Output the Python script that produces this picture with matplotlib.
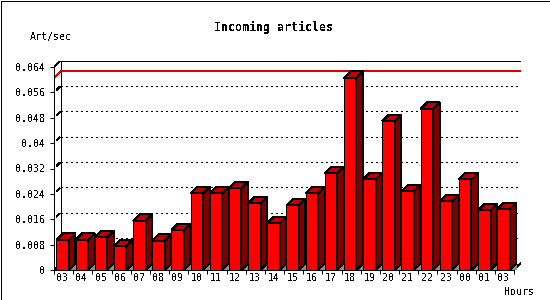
import matplotlib
matplotlib.use("Agg")
import matplotlib.pyplot as plt
from matplotlib.patches import Rectangle, Polygon
import numpy as np

# dati
hours = ["03", "04", "05", "06", "07", "08", "09", "10", "11", "12", "13", "14",
         "15", "16", "17", "18", "19", "20", "21", "22", "23", "00", "01", "03"]
rate = [0.0095, 0.0095, 0.0103, 0.0075, 0.0155, 0.0092, 0.0126, 0.0242,
        0.0242, 0.0258, 0.0210, 0.0147, 0.0204, 0.0242, 0.0305, 0.0606,
        0.0286, 0.0469, 0.0248, 0.0508, 0.0217, 0.0286, 0.0188, 0.0192]
yticks = [0, 0.008, 0.016, 0.024, 0.032, 0.04, 0.048, 0.056, 0.064]
ylabels = ["0", "0.008", "0.016", "0.024", "0.032", "0.04", "0.048", "0.056", "0.064"]

plt.rcParams['font.family'] = ['DejaVu Sans Mono', 'DejaVu Sans']
plt.rcParams['text.antialiased'] = False
plt.rcParams['lines.antialiased'] = False
plt.rcParams['patch.antialiased'] = False

W, H = 550, 300
fig = plt.figure(figsize=(W / 100, H / 100), dpi=100)

# geometria (pixel)
front_w = 460.0      # lunghezza asse x frontale
front_h = 203.0      # altezza da 0 a 0.064
depth = 6.5          # profondita' 3D
n = len(hours)
ymax = yticks[-1]
ux = n / front_w
uy = ymax / front_h
dx = depth * ux
dy = depth * uy

ax = fig.add_axes([54 / W, 30 / H, (front_w + depth) / W, (front_h + depth) / H])
ax.set_xlim(0, n + dx)
ax.set_ylim(0, ymax + dy)
for s in ["top", "right"]:
    ax.spines[s].set_visible(False)
ax.spines["left"].set_bounds(0, ymax)
ax.spines["bottom"].set_bounds(0, n)
for s in ["left", "bottom"]:
    ax.spines[s].set_linewidth(0.72)
    ax.spines[s].set_zorder(5)
ax.patch.set_alpha(0)

ax.set_yticks(yticks)
ax.set_yticklabels(ylabels, fontsize=7.2)
ax.set_xticks(np.arange(n + 1))
ax.set_xticklabels([])
ax.set_xticks(np.arange(n) + 0.45, minor=True)
ax.set_xticklabels(hours, minor=True, fontsize=7.2)
ax.tick_params(axis="y", length=3, width=0.72, pad=3)
ax.tick_params(axis="x", which="major", length=3, width=0.72)
ax.tick_params(axis="x", which="minor", length=0, pad=2)

lw = 0.72
# parete di fondo
ax.add_patch(Rectangle((dx, dy), n, ymax, fill=False, ec="black", lw=lw, zorder=1))
ax.plot([0, dx], [ymax, ymax + dy], color="black", lw=lw, zorder=1)
ax.plot([n, n + dx], [0, dy], color="black", lw=lw, zorder=1)
ax.plot([0, dx], [0, dy], color="black", lw=lw, zorder=1)

# griglia tratteggiata
for v in yticks[1:-1]:
    ax.plot([dx, n + dx], [v + dy, v + dy], color="black", lw=lw,
            dashes=(2, 3), zorder=1)
    ax.plot([0.45 * dx, 0.85 * dx], [v + 0.45 * dy, v + 0.85 * dy],
            color="black", lw=lw, zorder=1)

# linea del massimo
vmax = max(rate)
ax.plot([0, dx, n + dx], [vmax, vmax + dy, vmax + dy], color="#e00000", lw=lw, zorder=1)

# barre 3D
off = 0.13
bw = 0.65
for i, v in enumerate(rate):
    x0 = i + off
    x1 = x0 + bw
    ax.add_patch(Polygon([(x1, 0), (x1 + dx, dy), (x1 + dx, 0)],
                         closed=True, fc="#8c8c8c", ec="none", zorder=2))
    ax.add_patch(Rectangle((x0, 0), bw, v, fc="#ff0000", ec="black", lw=lw, zorder=3))
    ax.add_patch(Polygon([(x0, v), (x1, v), (x1 + dx, v + dy), (x0 + dx, v + dy)],
                         closed=True, fc="#c00000", ec="black", lw=lw, zorder=3))
    ax.add_patch(Polygon([(x1, 0), (x1 + dx, dy), (x1 + dx, v + dy), (x1, v)],
                         closed=True, fc="#800000", ec="black", lw=lw, zorder=3))

# testi
fig.text(274 / W, 1 - 27.5 / H, "Incoming articles", ha="center", va="center",
         fontsize=8.4, fontweight="bold")
fig.text(30 / W, 1 - 37 / H, "Art/sec", ha="left", va="center", fontsize=7.2)
fig.text(534 / W, 1 - 292 / H, "Hours", ha="right", va="center", fontsize=7.2)

# bordo immagine
fig.patches.append(Rectangle((0.5 / W, 0.5 / H), (W - 1) / W, (H - 1) / H,
                             transform=fig.transFigure, fill=False, ec="black",
                             lw=0.72, figure=fig))

fig.savefig("out.png", dpi=100)
